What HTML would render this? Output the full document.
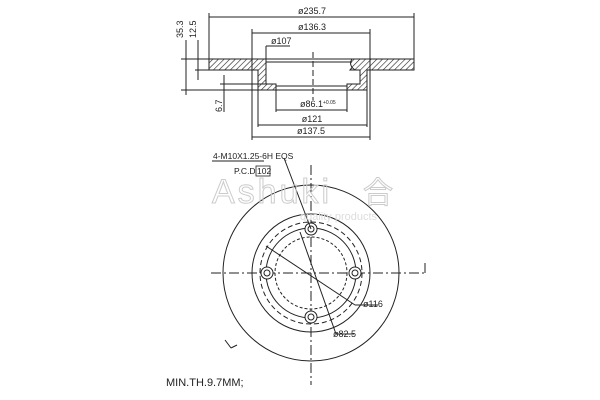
<!DOCTYPE html>
<html><head><meta charset="utf-8"><style>
html,body{margin:0;padding:0;background:#fff}
svg{display:block}
text{font-family:"Liberation Sans",sans-serif;fill:#222}
</style></head><body>
<svg width="600" height="400" viewBox="0 0 600 400" xmlns="http://www.w3.org/2000/svg">
<defs>
<pattern id="h" width="4" height="4" patternUnits="userSpaceOnUse" patternTransform="rotate(45)">
<rect width="4" height="4" fill="#fff"/><line x1="0" y1="0" x2="0" y2="4" stroke="#222" stroke-width="1.2"/>
</pattern>
</defs>
<g stroke="#222" fill="none" stroke-width="1">
<!-- section -->
<path d="M209 59 L414 59 L414 70 L367 70 L367 90 L347 90 L347 84 L360 84 L360 70 L350 70 L355 64 L352 59" fill="url(#h)"/>
<path d="M209 59 L258 59 L258 59 L266 59 L266 84 L276 84 L276 90 L258 90 L258 70 L209 70 Z" fill="url(#h)"/>
<path d="M352 59 Q348 65 355 70 L360 70 L360 84 L347 84 L347 90 L367 90 L367 70 L414 70 L414 59 Z" fill="url(#h)"/>
<line x1="266" y1="62" x2="352" y2="62"/>
<line x1="276" y1="86" x2="347" y2="86"/>
<line x1="276" y1="90" x2="347" y2="90"/>
<line x1="313" y1="52" x2="313" y2="100" stroke-dasharray="6 3"/>
<!-- dims top -->
<line x1="209" y1="17" x2="414" y2="17"/><line x1="209" y1="13" x2="209" y2="59"/><line x1="414" y1="13" x2="414" y2="59"/>
<line x1="252" y1="33" x2="370" y2="33"/><line x1="252" y1="29" x2="252" y2="140"/><line x1="370" y1="29" x2="370" y2="140"/>
<line x1="266" y1="46" x2="290" y2="46"/><line x1="266" y1="46" x2="266" y2="59"/>
<line x1="276" y1="110" x2="347" y2="110"/><line x1="276" y1="90" x2="276" y2="112"/><line x1="347" y1="90" x2="347" y2="112"/>
<line x1="258" y1="125" x2="367" y2="125"/><line x1="258" y1="90" x2="258" y2="127"/><line x1="367" y1="90" x2="367" y2="127"/>
<line x1="252" y1="137" x2="370" y2="137"/>
<!-- left dims -->
<line x1="186" y1="40" x2="186" y2="95"/><line x1="181" y1="59" x2="209" y2="59"/><line x1="181" y1="90" x2="258" y2="90"/>
<line x1="198" y1="40" x2="198" y2="80"/><line x1="195" y1="70" x2="209" y2="70"/>
<line x1="224" y1="75" x2="224" y2="112"/><line x1="220" y1="84" x2="276" y2="84"/>
<!-- front view -->
<circle cx="311" cy="273" r="88"/>
<circle cx="311" cy="273" r="59"/>
<circle cx="311" cy="273" r="51" stroke-dasharray="5 3"/>
<circle cx="311" cy="273" r="45"/>
<circle cx="311" cy="273" r="36" stroke-dasharray="3 2"/>
<line x1="211" y1="273" x2="425" y2="273" stroke-dasharray="10 3 2 3"/>
<line x1="311" y1="165" x2="311" y2="385" stroke-dasharray="10 3 2 3"/>
<line x1="425" y1="273" x2="425" y2="263"/>
<line x1="225" y1="340" x2="231" y2="348"/><line x1="231" y1="348" x2="237" y2="345"/>
<circle cx="311" cy="229" r="6" fill="#fff"/><circle cx="311" cy="229" r="3"/>
<circle cx="267" cy="273" r="6" fill="#fff"/><circle cx="267" cy="273" r="3"/>
<circle cx="355" cy="273" r="6" fill="#fff"/><circle cx="355" cy="273" r="3"/>
<circle cx="311" cy="317" r="6" fill="#fff"/><circle cx="311" cy="317" r="3"/>
<line x1="212" y1="161" x2="264" y2="161"/>
<line x1="284" y1="158" x2="311" y2="229"/>
<line x1="266" y1="246" x2="355" y2="305"/><line x1="355" y1="305" x2="378" y2="305"/>
<line x1="300" y1="232" x2="336" y2="334"/><line x1="336" y1="334" x2="354" y2="334"/>
</g>
<g font-size="9">
<text x="312" y="14" text-anchor="middle">ø235.7</text>
<text x="312" y="30" text-anchor="middle">ø136.3</text>
<text x="271" y="44">ø107</text>
<text x="300" y="107">ø86.1<tspan font-size="5" dy="-3">+0.05</tspan></text>
<text x="312" y="122" text-anchor="middle">ø121</text>
<text x="311" y="134" text-anchor="middle">ø137.5</text>
<text transform="translate(183,38) rotate(-90)" text-anchor="start">35.3</text>
<text transform="translate(196,38) rotate(-90)">12.5</text>
<text transform="translate(222,112) rotate(-90)">6.7</text>
<text x="213" y="159" font-size="8.5">4-M10X1.25-6H EQS</text>
<text x="234" y="174" font-size="8.5">P.C.D</text>
<rect x="256" y="166" width="14" height="10" fill="none" stroke="#222" stroke-width="0.8"/>
<text x="257" y="174" font-size="8.5">102</text>
<text x="363" y="307">ø116</text>
<text x="333" y="337">ø82.5</text>
<text x="166" y="386" font-size="11">MIN.TH.9.7MM;</text>
</g>
<text x="212" y="203" font-size="34" fill="none" stroke="#ccc" stroke-width="1" style="fill:none;letter-spacing:3px">Ashuki</text>
<text x="363" y="203" font-size="30" style="fill:none;stroke:#ccc;font-family:'Noto Sans CJK JP',sans-serif">合</text>
<text x="300" y="220" font-size="11" style="fill:#ddd">quality products</text>
</svg>
</body></html>
